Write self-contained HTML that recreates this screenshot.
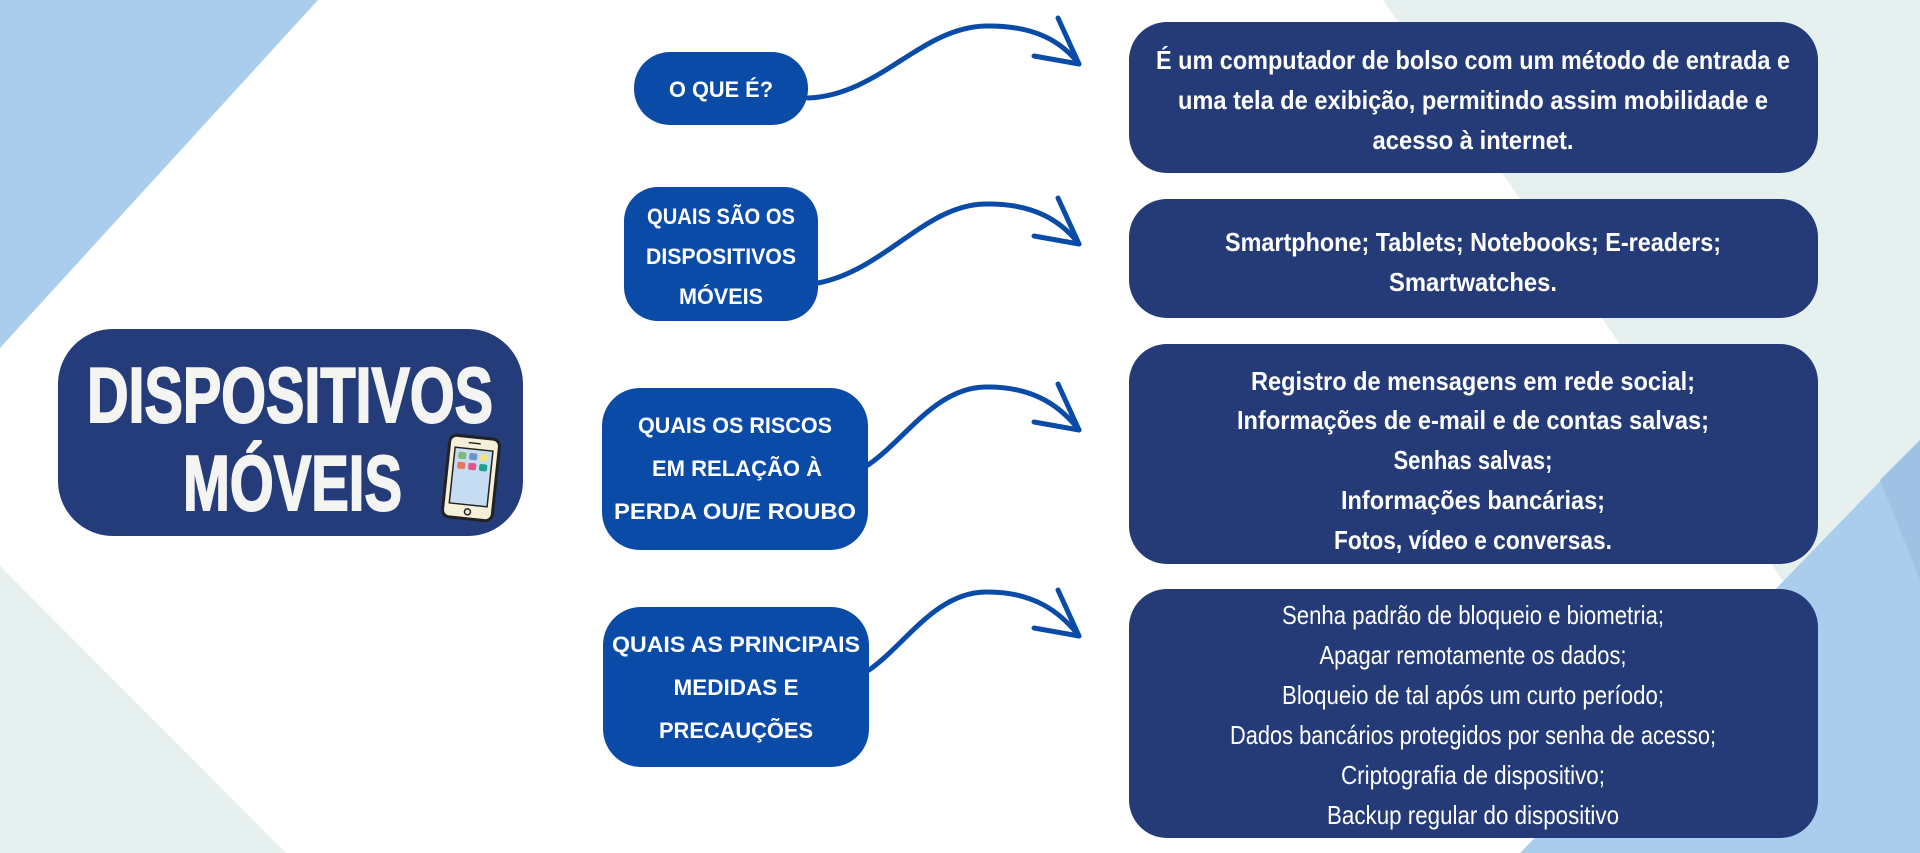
<!DOCTYPE html>
<html><head><meta charset="utf-8"><style>
html,body{margin:0;padding:0;background:#fff;}
svg{display:block}
</style></head><body>
<svg width="1920" height="853" viewBox="0 0 1920 853" xmlns="http://www.w3.org/2000/svg">
<rect width="1920" height="853" fill="#ffffff"/>
<polygon points="0,0 318,0 0,348" fill="#aacdee"/>
<polygon points="0,566 286,853 0,853" fill="#e6f0ee"/>
<polygon points="1383,0 1920,0 1920,780" fill="#e6f0ee"/>
<polygon points="1920,440 1920,853 1520,853" fill="#aacdee"/>
<polygon points="1920,440 1920,580 1880,480" fill="#9fc2e4"/>

<!-- main box -->
<rect x="58" y="329" width="465" height="207" rx="55" fill="#243d7a"/>
<g font-family="'Liberation Sans Narrow','Liberation Sans',sans-serif" font-weight="bold" fill="#f4f4f2" font-size="78" stroke="#f4f4f2" stroke-width="2">
<text x="87" y="422" textLength="406" lengthAdjust="spacingAndGlyphs">DISPOSITIVOS</text>
<text x="183" y="510" textLength="219" lengthAdjust="spacingAndGlyphs">MÓVEIS</text>
</g>
<g transform="rotate(6 471 478)">
<rect x="446" y="437" width="50" height="82" rx="7" fill="#f6f0da" stroke="#222" stroke-width="3"/>
<rect x="452" y="449" width="38" height="56" fill="#c6dcf2" stroke="#222" stroke-width="1.5"/>
<rect x="456" y="453" width="8" height="7" rx="2" fill="#7fba7a"/>
<rect x="467" y="453" width="8" height="7" rx="2" fill="#6f93c8"/>
<rect x="478" y="453" width="8" height="7" rx="2" fill="#f1e27a"/>
<rect x="456" y="463" width="8" height="7" rx="2" fill="#e9775a"/>
<rect x="467" y="463" width="8" height="7" rx="2" fill="#e0558a"/>
<rect x="478" y="463" width="8" height="7" rx="2" fill="#1aa38a"/>
<circle cx="471" cy="512" r="3" fill="none" stroke="#222" stroke-width="1.5"/>
<line x1="465" y1="443" x2="477" y2="443" stroke="#222" stroke-width="1.5"/>
</g>

<!-- question boxes -->
<g fill="#0b4ba8">
<rect x="634" y="52" width="174" height="73" rx="36"/>
<rect x="624" y="187" width="194" height="134" rx="34"/>
<rect x="602" y="388" width="266" height="162" rx="38"/>
<rect x="603" y="607" width="266" height="160" rx="38"/>
</g>
<g font-family="'Liberation Sans',sans-serif" font-weight="bold" fill="#fff" font-size="22" text-anchor="middle">
<text x="721" y="97" textLength="104" lengthAdjust="spacingAndGlyphs">O QUE É?</text>
<text x="721" y="224" textLength="148" lengthAdjust="spacingAndGlyphs">QUAIS SÃO OS</text>
<text x="721" y="264" textLength="150" lengthAdjust="spacingAndGlyphs">DISPOSITIVOS</text>
<text x="721" y="304" textLength="84" lengthAdjust="spacingAndGlyphs">MÓVEIS</text>
<text x="735" y="433" textLength="194" lengthAdjust="spacingAndGlyphs">QUAIS OS RISCOS</text>
<text x="737" y="476" textLength="170" lengthAdjust="spacingAndGlyphs">EM RELAÇÃO À</text>
<text x="735" y="519" textLength="242" lengthAdjust="spacingAndGlyphs">PERDA OU/E ROUBO</text>
<text x="736" y="652" textLength="248" lengthAdjust="spacingAndGlyphs">QUAIS AS PRINCIPAIS</text>
<text x="736" y="695" textLength="125" lengthAdjust="spacingAndGlyphs">MEDIDAS E</text>
<text x="736" y="738" textLength="154" lengthAdjust="spacingAndGlyphs">PRECAUÇÕES</text>
</g>

<!-- connectors -->
<g fill="none" stroke="#0b4ba8" stroke-width="5" stroke-linecap="round" stroke-linejoin="round">
<path d="M808,98 C880,95 920,28 985,26 C1035,25 1062,42 1079,64"/>
<path d="M1058,18 L1079,64 L1034,56"/>
<path d="M818,283 C885,270 925,205 985,204 C1035,203 1062,222 1079,244"/>
<path d="M1058,198 L1079,244 L1034,236"/>
<path d="M868,465 C905,440 935,388 985,387 C1035,386 1062,408 1079,430"/>
<path d="M1058,384 L1079,430 L1034,422"/>
<path d="M869,670 C905,645 935,593 985,592 C1035,591 1062,614 1079,636"/>
<path d="M1058,590 L1079,636 L1034,628"/>
</g>

<!-- answer boxes -->
<g fill="#243b78">
<rect x="1129" y="22" width="689" height="151" rx="38"/>
<rect x="1129" y="199" width="689" height="119" rx="38"/>
<rect x="1129" y="344" width="689" height="220" rx="38"/>
<rect x="1129" y="589" width="689" height="249" rx="38"/>
</g>
<g font-family="'Liberation Sans Narrow','Liberation Sans',sans-serif" font-weight="bold" fill="#fff" font-size="26" text-anchor="middle">
<text x="1473" y="69" textLength="634" lengthAdjust="spacingAndGlyphs">É um computador de bolso com um método de entrada e</text>
<text x="1473" y="109" textLength="590" lengthAdjust="spacingAndGlyphs">uma tela de exibição, permitindo assim mobilidade e</text>
<text x="1473" y="149" textLength="201" lengthAdjust="spacingAndGlyphs">acesso à internet.</text>
<text x="1473" y="251" textLength="496" lengthAdjust="spacingAndGlyphs">Smartphone; Tablets; Notebooks; E-readers;</text>
<text x="1473" y="291" textLength="168" lengthAdjust="spacingAndGlyphs">Smartwatches.</text>
<text x="1473" y="390" textLength="444" lengthAdjust="spacingAndGlyphs">Registro de mensagens em rede social;</text>
<text x="1473" y="429" textLength="472" lengthAdjust="spacingAndGlyphs">Informações de e-mail e de contas salvas;</text>
<text x="1473" y="469" textLength="159" lengthAdjust="spacingAndGlyphs">Senhas salvas;</text>
<text x="1473" y="509" textLength="264" lengthAdjust="spacingAndGlyphs">Informações bancárias;</text>
<text x="1473" y="549" textLength="278" lengthAdjust="spacingAndGlyphs">Fotos, vídeo e conversas.</text>
</g>
<g font-family="'Liberation Sans Narrow','Liberation Sans',sans-serif" fill="#fff" font-size="26" text-anchor="middle">
<text x="1473" y="624" textLength="382" lengthAdjust="spacingAndGlyphs">Senha padrão de bloqueio e biometria;</text>
<text x="1473" y="664" textLength="307" lengthAdjust="spacingAndGlyphs">Apagar remotamente os dados;</text>
<text x="1473" y="704" textLength="382" lengthAdjust="spacingAndGlyphs">Bloqueio de tal após um curto período;</text>
<text x="1473" y="744" textLength="486" lengthAdjust="spacingAndGlyphs">Dados bancários protegidos por senha de acesso;</text>
<text x="1473" y="784" textLength="264" lengthAdjust="spacingAndGlyphs">Criptografia de dispositivo;</text>
<text x="1473" y="824" textLength="292" lengthAdjust="spacingAndGlyphs">Backup regular do dispositivo</text>
</g>
</svg>
</body></html>
